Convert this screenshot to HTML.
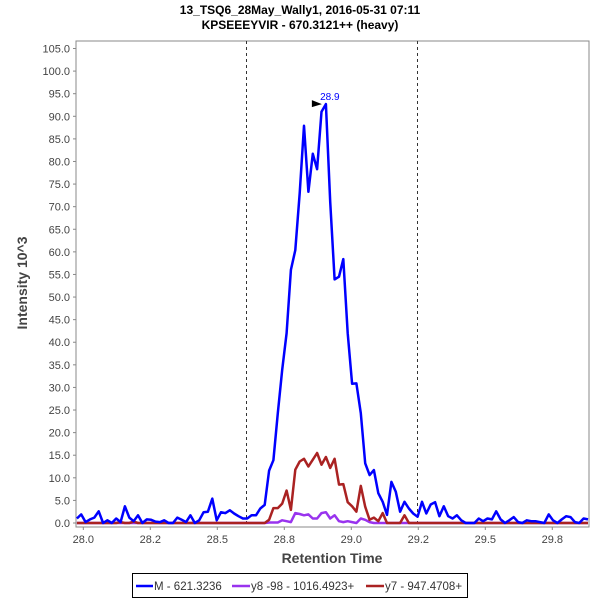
<!DOCTYPE html>
<html><head><meta charset="utf-8"><style>
body{margin:0;background:#fff;font-family:"Liberation Sans",sans-serif}
svg text{font-family:"Liberation Sans",sans-serif}
</style></head><body>
<svg id="chart" width="600" height="600" xmlns="http://www.w3.org/2000/svg">
<rect width="600" height="600" fill="#fff"/>
<text x="300" y="14" text-anchor="middle" font-size="12" font-weight="bold" fill="#000">13_TSQ6_28May_Wally1, 2016-05-31 07:11</text>
<text x="300" y="29" text-anchor="middle" font-size="12" font-weight="bold" fill="#000">KPSEEEYVIR - 670.3121++ (heavy)</text>
<rect x="76" y="41" width="513" height="486" fill="#fff" stroke="#888" stroke-width="1"/>
<g id="yticks"></g>
<g id="xticks"></g>
<g id="series"></g>
<text transform="translate(27,283) rotate(-90)" text-anchor="middle" font-size="14" font-weight="bold" fill="#444">Intensity 10^3</text>
<text x="332" y="563" text-anchor="middle" font-size="14" font-weight="bold" fill="#444">Retention Time</text>
<g>
<rect x="132.5" y="573.5" width="335" height="24" fill="#fff" stroke="#000"/>
<line x1="136" y1="586" x2="153" y2="586" stroke="#0000ff" stroke-width="2.5"/>
<text x="154" y="590" font-size="11.5" fill="#333">M - 621.3236</text>
<line x1="232" y1="586" x2="250" y2="586" stroke="#9933ee" stroke-width="2.5"/>
<text x="251" y="590" font-size="11.5" fill="#333">y8 -98 - 1016.4923+</text>
<line x1="366" y1="586" x2="384" y2="586" stroke="#aa2222" stroke-width="2.5"/>
<text x="385" y="590" font-size="11.5" fill="#333">y7 - 947.4708+</text>
</g>
</svg>
<script>
const startTime = 27.976;
const timeStep = 0.0163;
const yTickValues = [0,5,10,15,20,25,30,35,40,45,50,55,60,65,70,75,80,85,90,95,100,105];
const xTickValues = [28.0,28.25,28.5,28.75,29.0,29.25,29.5,29.75];
const xTickLabels = ["28.0","28.2","28.5","28.8","29.0","29.2","29.5","29.8"];
const boundaryTimes = [28.607, 29.246];
const peakLabel = "28.9";
const seriesM = [1.0,1.9,0.2,0.8,1.2,2.6,0,0.6,0,1.0,0.2,3.7,1.2,0.4,1.7,0,0.8,0.7,0.3,0.2,0.6,0,0,1.2,0.7,0.2,1.7,0,0.6,2.4,2.5,5.4,0.6,2.4,2.2,2.8,2.1,1.5,1.0,1.0,1.7,1.7,3.2,4.0,11.6,
13.9,24.3,33.9,42,56,60.4,73,87.9,73.3,81.7,78.3,91,92.7,71.1,53.9,54.5,58.4,42,30.8,30.9,24.3,13.2,10.6,11.7,6.6,4.7,1.8,9.1,6.9,2.5,4.7,3.2,2.1,1.4,4.7,2.1,
4.1,4.6,1.5,3.7,1.5,1.0,1.7,0.6,0,0,0,1.0,0.4,1.0,0.8,2.6,0.8,0,0.6,1.3,0.2,0,0.6,0.4,0.4,0.2,0,1.9,0.6,0,0.8,1.5,1.3,0.2,0,1.0,0.8];
const seriesY8 = [0,0,0,0,0,0,0,0,0,0,0,0,0,0,0,0,0,0,0,0,0,0,0,0,0,0,0,0,0,0,0,0,0,0,0,0,0,0,0,0,0,0,0,0,0.1,0.1,0.1,0.6,0.4,0.2,2.2,2.0,1.7,1.9,1.0,1.0,2.2,2.4,1.0,1.7,0.4,0.2,0.4,0.2,0,1.0,0.7,0.2,0,0,0,0,0,0,0,0,0,0,0,0,0,0,0,0,0,0,0,0,0,0,0,0,0,0,0,0,0,0,0,0,0,0,0,0,0,0,0,0,0,0,0,0,0,0,0,0,0,0];
const seriesY7 = [0,0,0,0,0,0,0,0,0,0,0.2,0,0,0.3,0,0,0,0,0,0,0,0,0,0,0,0,0,0,0,0,0,0,0,0,0,0,0,0,0,0,0,0,0,0,0.7,3.3,3.3,4.3,7.2,2.9,11.8,13.6,14.2,12.5,14.0,15.5,12.9,14.6,12.2,14.2,8.5,8.6,4.6,3.7,2.5,8.2,3.6,0.7,1.2,0.4,2.2,0,0,0,0,1.7,0,0,0,0,0,0,0,0,0,0,0,0,0,0,0,0,0,0,0,0,0,0,0,0,0,0,0,0,0,0,0,0,0,0,0,0,0,0,0,0,0,0];

const NS = "http://www.w3.org/2000/svg";
const xScale = t => 83.3 + (t - 28.0) * 268;
const yScale = v => 523 - v * 4.519;
const timeAt = i => startTime + i * timeStep;

const yg = document.getElementById('yticks');
yTickValues.forEach(v => {
  const y = yScale(v);
  const l = document.createElementNS(NS,'line');
  l.setAttribute('x1',73); l.setAttribute('x2',76); l.setAttribute('y1',y); l.setAttribute('y2',y);
  l.setAttribute('stroke','#888');
  
  
  yg.appendChild(l);
  const t = document.createElementNS(NS,'text');
  t.setAttribute('x',70); t.setAttribute('y',y+4); t.setAttribute('text-anchor','end');
  t.setAttribute('font-size','11'); t.setAttribute('fill','#444');
  t.textContent = v.toFixed(1);
  
  
  yg.appendChild(t);
});
const xg = document.getElementById('xticks');
xTickValues.forEach((v,i) => {
  const x = xScale(v);
  const l = document.createElementNS(NS,'line');
  l.setAttribute('x1',x); l.setAttribute('x2',x); l.setAttribute('y1',527); l.setAttribute('y2',530);
  l.setAttribute('stroke','#888');
  
  
  xg.appendChild(l);
  const t = document.createElementNS(NS,'text');
  t.setAttribute('x',x); t.setAttribute('y',543); t.setAttribute('text-anchor','middle');
  t.setAttribute('font-size','11'); t.setAttribute('fill','#444');
  t.textContent = xTickLabels[i];
  
  
  xg.appendChild(t);
});
const sg = document.getElementById('series');
boundaryTimes.forEach(b => {
  const l = document.createElementNS(NS,'line');
  const x = Math.round(xScale(b)) + 0.5;
  l.setAttribute('x1',x); l.setAttribute('x2',x); l.setAttribute('y1',41); l.setAttribute('y2',527);
  l.setAttribute('stroke','#333'); l.setAttribute('stroke-dasharray','3,3');
  
  
  sg.appendChild(l);
});
function drawSeries(vals, color, name){
  const p = document.createElementNS(NS,'polyline');
  p.setAttribute('points', vals.map((v,i)=>xScale(timeAt(i)).toFixed(1)+','+yScale(v).toFixed(1)).join(' '));
  p.setAttribute('fill','none'); p.setAttribute('stroke',color); p.setAttribute('stroke-width','2.5');
  p.setAttribute('stroke-linejoin','round');
  
  
  sg.appendChild(p);
}
drawSeries(seriesY8,'#9933ee','series-y8');
drawSeries(seriesY7,'#aa2222','series-y7');
drawSeries(seriesM,'#0000ff','series-m');
let pk = 0; seriesM.forEach((v,i)=>{ if(v>seriesM[pk]) pk=i; });
const px = xScale(timeAt(pk)), py = yScale(seriesM[pk]);
const tri = document.createElementNS(NS,'polygon');
tri.setAttribute('points',(px-14)+','+(py-4)+' '+(px-4)+','+py+' '+(px-14)+','+(py+3));
tri.setAttribute('fill','#000');


sg.appendChild(tri);
const lbl = document.createElementNS(NS,'text');
lbl.setAttribute('x',px+4); lbl.setAttribute('y',py-4); lbl.setAttribute('text-anchor','middle');
lbl.setAttribute('font-size','10'); lbl.setAttribute('fill','#0000ff');
lbl.textContent = peakLabel;


sg.appendChild(lbl);
</script>
</body></html>
